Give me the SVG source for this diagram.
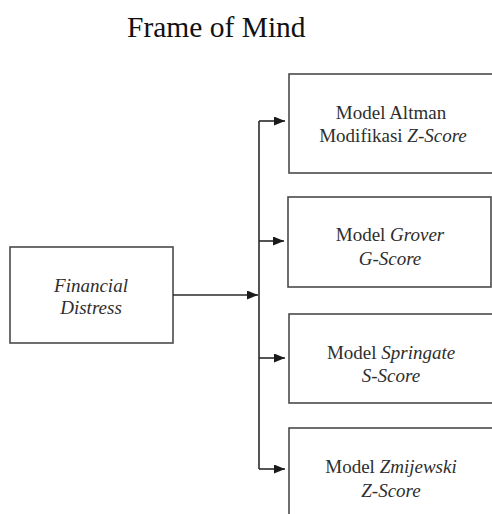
<svg xmlns="http://www.w3.org/2000/svg" width="492" height="514" viewBox="0 0 492 514">
<style>
.box{fill:#fff;stroke:#4a4a4a;stroke-width:1.6}
.t{font-family:"Liberation Serif",serif;font-size:19px;fill:#2e2e2e;text-anchor:middle}
.i{font-style:italic}
.c{fill:none;stroke:#2a2a2a;stroke-width:1.6}
.title{font-family:"Liberation Serif",serif;font-size:29.5px;fill:#111}
</style>
<defs>
<marker id="ah" markerWidth="11" markerHeight="9" refX="11" refY="4.5" orient="auto" markerUnits="userSpaceOnUse">
<path d="M0,0 L11,4.5 L0,9 Z" fill="#1a1a1a"/>
</marker>
</defs>
<rect width="492" height="514" fill="#fff"/>
<text class="title" x="127" y="37">Frame of Mind</text>
<g id="financial-distress">
<rect class="box" x="10" y="247" width="163" height="96"/>
<text class="t i" x="91" y="292">Financial</text>
<text class="t i" x="91" y="314">Distress</text>
</g>
<g id="altman">
<rect class="box" x="289" y="74" width="206" height="99"/>
<text class="t" x="391" y="119">Model Altman</text>
<text class="t" x="393" y="142">Modifikasi <tspan class="i">Z-Score</tspan></text>
</g>
<g id="grover">
<rect class="box" x="288" y="197" width="203" height="90"/>
<text class="t" x="390" y="241">Model <tspan class="i">Grover</tspan></text>
<text class="t i" x="390" y="265">G-Score</text>
</g>
<g id="springate">
<rect class="box" x="289" y="314" width="206" height="89"/>
<text class="t" x="391" y="359">Model <tspan class="i">Springate</tspan></text>
<text class="t i" x="391" y="382">S-Score</text>
</g>
<g id="zmijewski">
<rect class="box" x="289" y="428" width="206" height="100"/>
<text class="t" x="391" y="473">Model <tspan class="i">Zmijewski</tspan></text>
<text class="t i" x="391" y="497">Z-Score</text>
</g>
<g id="connectors">
<path class="c" d="M173,295 H258" marker-end="url(#ah)"/>
<path class="c" d="M259,469 V121"/>
<path class="c" d="M259,121 H285" marker-end="url(#ah)"/>
<path class="c" d="M259,241 H284" marker-end="url(#ah)"/>
<path class="c" d="M259,358 H285" marker-end="url(#ah)"/>
<path class="c" d="M259,469 H285" marker-end="url(#ah)"/>
</g>
</svg>
